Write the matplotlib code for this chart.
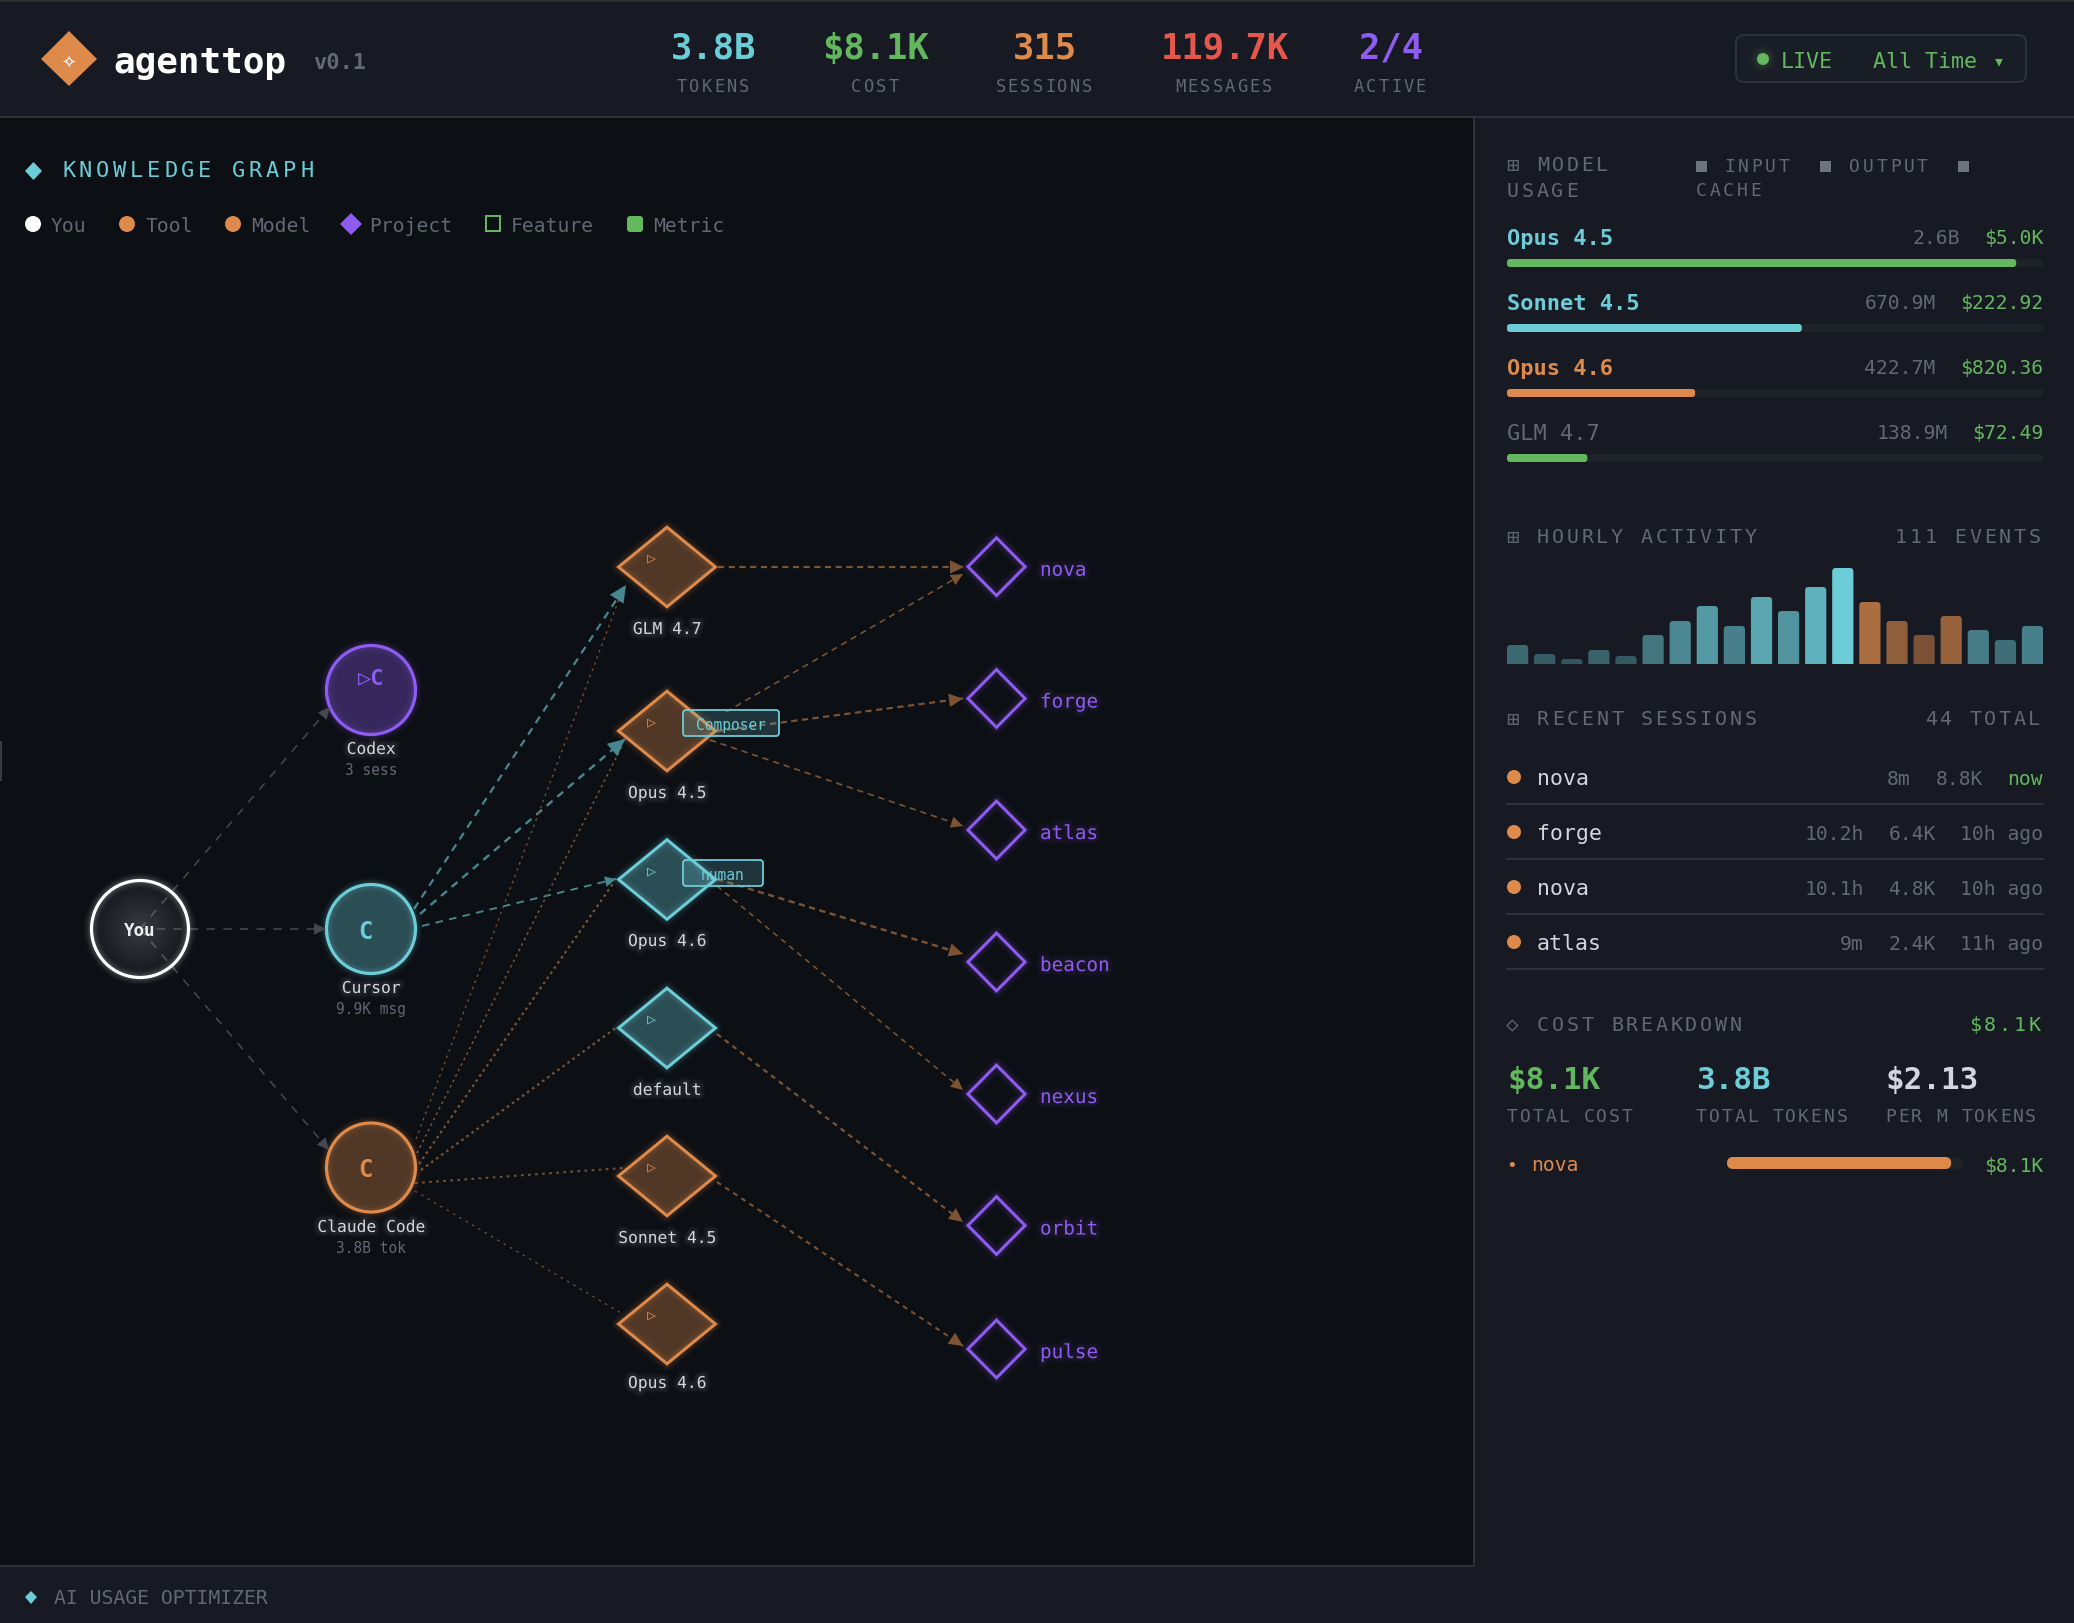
import numpy as np
import matplotlib
matplotlib.use("Agg")
import matplotlib.pyplot as plt
import matplotlib.patheffects as pe
from matplotlib.patches import Rectangle, Circle, Polygon, FancyBboxPatch
from matplotlib.text import Text

# ---- values ----
stat_values = ["3.8B", "$8.1K", "315", "119.7K", "2/4"]
stat_labels = ["TOKENS", "COST", "SESSIONS", "MESSAGES", "ACTIVE"]

model_names = ["Opus 4.5", "Sonnet 4.5", "Opus 4.6", "GLM 4.7"]
model_tokens = ["2.6B", "670.9M", "422.7M", "138.9M"]
model_costs = ["$5.0K", "$222.92", "$820.36", "$72.49"]
model_shares = [0.95, 0.55, 0.351, 0.15]

hourly_events = [19, 10, 5, 14, 8, 29, 43, 58, 38, 67, 53, 77, 96, 62, 43, 29, 48, 34, 24, 38]
hourly_orange = [13, 14, 15, 16]

session_names = ["nova", "forge", "nova", "atlas"]
session_times = ["8m", "10.2h", "10.1h", "9m"]
session_tokens = ["8.8K", "6.4K", "4.8K", "2.4K"]
session_ages = ["now", "10h ago", "10h ago", "11h ago"]

cost_values = ["$8.1K", "3.8B", "$2.13"]
cost_labels = ["TOTAL COST", "TOTAL TOKENS", "PER M TOKENS"]
nova_share = 0.95

project_names = ["nova", "forge", "atlas", "beacon", "nexus", "orbit", "pulse"]

# ---- colours ----
BG = "#0c0f14"
PANEL = "#171a22"
LINE = "#2e3139"
CYAN = "#6ccdd8"
GREEN = "#63b75f"
ORANGE = "#dd8a4b"
RED = "#e5564d"
PURPLE = "#8e5cf0"
GRAY = "#646872"
LIGHT = "#d3d6de"
EDGE_GRAY = "#44474e"
EDGE_CYAN = "#47878f"
EDGE_ORANGE = "#7d5433"

W, H = 2074, 1624
plt.rcParams["font.family"] = ["DejaVu Sans Mono", "DejaVu Sans"]
plt.rcParams["lines.scale_dashes"] = False


def pt(px):
    # figure is saved at 100 dpi
    return px * 0.72


class SpacedText(Text):
    """One text object, drawn with a fixed distance between letters."""

    def __init__(self, x, y, s, pitch, **kw):
        super().__init__(x, y, s, **kw)
        self.pitch = pitch

    def draw(self, renderer):
        s = self.get_text()
        x0 = self.get_position()[0]
        ha = self.get_ha()
        start = x0 - len(s) * self.pitch if ha == "right" else x0
        self.set_ha("left")
        for i, ch in enumerate(s):
            self.set_text(ch)
            self.set_x(start + i * self.pitch)
            super().draw(renderer)
        self.set_text(s)
        self.set_x(x0)
        self.set_ha(ha)

    def get_window_extent(self, renderer=None, dpi=None):
        box = super().get_window_extent(renderer, dpi)
        width = len(self.get_text()) * self.pitch
        if self.get_ha() == "right":
            return box.from_extents(box.x1 - width, box.y0, box.x1, box.y1)
        return box.from_extents(box.x0, box.y0, box.x0 + width, box.y1)


def label(x, y, s, size, color, ha="left", weight="normal", pitch=None, glow=None, zorder=6):
    # y is the middle of the capitals, size is in pixels
    base = y + 0.365 * size
    kw = dict(color=color, fontsize=pt(size), ha=ha, va="baseline", fontweight=weight, zorder=zorder,
              fontfamily=["DejaVu Sans Mono", "DejaVu Sans"])
    if pitch is None:
        t = ax.text(x, base, s, **kw)
    else:
        t = SpacedText(x, base, s, pitch, **kw)
        ax.add_artist(t)
    if glow:
        t.set_path_effects([
            pe.Stroke(linewidth=pt(11), foreground=glow, alpha=0.025),
            pe.Stroke(linewidth=pt(8), foreground=glow, alpha=0.035),
            pe.Stroke(linewidth=pt(5), foreground=glow, alpha=0.045),
            pe.Normal(),
        ])
    return t


def round_box(a, x, y, w, h, r, fc, ec="none", lw=0, alpha=None, zorder=3):
    p = FancyBboxPatch((x, y), w, h, boxstyle=f"round,pad=0,rounding_size={r}", fc=fc, ec=ec, lw=pt(lw),
                       alpha=alpha, zorder=zorder, mutation_aspect=1)
    a.add_patch(p)
    return p


def glow_shape(points, color, lw, fill_alpha, closed=True):
    xy = np.array(points)
    ax.add_patch(Polygon(xy, closed=closed, fc=color, ec="none", alpha=fill_alpha, zorder=3))
    for width, alpha in [(16, 0.02), (13, 0.03), (10, 0.05), (7, 0.07)]:
        ax.add_patch(Polygon(xy, closed=closed, fc="none", ec=color, lw=pt(width), alpha=alpha,
                             joinstyle="round", zorder=3))
    ax.add_patch(Polygon(xy, closed=closed, fc="none", ec=color, lw=pt(lw), joinstyle="miter", zorder=4))


def diamond(cx, cy, hw, hh, color, lw=3, fill_alpha=0.33):
    glow_shape([(cx - hw, cy), (cx, cy - hh), (cx + hw, cy), (cx, cy + hh)], color, lw, fill_alpha)


def circle_node(cx, cy, r, color, fill_alpha=0.33, lw=3.2):
    ax.add_patch(Circle((cx, cy), r, fc=color, ec="none", alpha=fill_alpha, zorder=3))
    for width, alpha in [(16, 0.02), (13, 0.03), (10, 0.05), (7, 0.07)]:
        ax.add_patch(Circle((cx, cy), r, fc="none", ec=color, lw=pt(width), alpha=alpha, zorder=3))
    ax.add_patch(Circle((cx, cy), r, fc="none", ec=color, lw=pt(lw), zorder=4))


def edge(start, tip, color, lw, dash, head=0):
    start, tip = np.array(start, float), np.array(tip, float)
    ax.plot([start[0], tip[0]], [start[1], tip[1]], color=color, lw=pt(lw), ls=(0, dash),
            dash_capstyle="butt", zorder=2)
    if head:
        d = (tip - start) / np.hypot(*(tip - start))
        n = np.array([-d[1], d[0]])
        back = tip - d * head
        ax.add_patch(Polygon([tip, back + n * head * 0.48, back - n * head * 0.48], fc=color, ec="none", zorder=5))


fig = plt.figure(figsize=(W / 100, H / 100), dpi=100, facecolor=PANEL)
ax = fig.add_axes([0, 0, 1, 1])
ax.set_xlim(0, W)
ax.set_ylim(H, 0)
ax.axis("off")

# ---- panels ----
ax.add_patch(Rectangle((0, 119), 1473, 1447, fc=BG, ec="none", zorder=0))
ax.add_patch(Rectangle((0, 0), W, 2.5, fc="#2c2d2f", ec="none", zorder=1))
ax.plot([0, W], [118, 118], color=LINE, lw=pt(2), zorder=1)
ax.plot([1474, 1474], [118, 1567], color=LINE, lw=pt(2), zorder=1)
ax.plot([0, 1474], [1567, 1567], color=LINE, lw=pt(2), zorder=1)
ax.add_patch(Rectangle((0, 742), 1.5, 40, fc="#3a3a3c", ec="none", zorder=1))

# ---- header ----
ax.add_patch(Polygon([(41, 60), (69, 32), (97, 60), (69, 87)], fc=ORANGE, ec="none", zorder=3))
label(69, 60, "✧", 24, "white", ha="center")
label(113, 60, "agenttop", 36, "white", weight="bold")
label(313, 61, "v0.1", 22, GRAY, weight="bold")

stat_x = [714, 876, 1045, 1225, 1391]
stat_colors = [CYAN, GREEN, ORANGE, RED, PURPLE]
for x, v, lab, c in zip(stat_x, stat_values, stat_labels, stat_colors):
    label(x, 46, v, 35.5, c, ha="center", weight="bold")
    n = len(lab)
    label(x - n * 12.4 / 2, 85.5, lab, 17, GRAY, pitch=12.4)

round_box(ax, 1736, 36, 290, 47, 8, "#191d25", ec=LINE, lw=2)
for r, a in [(14, 0.03), (11, 0.05), (8.5, 0.08)]:
    ax.add_patch(Circle((1763, 60), r, fc=GREEN, ec="none", alpha=a, zorder=4))
ax.add_patch(Circle((1763, 60), 6, fc=GREEN, ec="none", zorder=5))
label(1781, 60, "LIVE", 21.6, GREEN)
label(1873, 60, "All Time", 21.6, GREEN)
label(1999, 60, "▾", 20, GREEN, ha="center")

# ---- knowledge graph title and legend ----
ax.add_patch(Polygon([(25, 172), (33.5, 163), (42, 172), (33.5, 181)], fc=CYAN, ec="none", zorder=3))
label(62, 169, "KNOWLEDGE GRAPH", 22, CYAN, pitch=17)

LEG_Y = 225
ax.add_patch(Circle((33, LEG_Y), 8, fc="white", ec="none", zorder=4))
label(51, LEG_Y, "You", 19.6, GRAY)
ax.add_patch(Circle((127, LEG_Y), 8, fc=ORANGE, ec="none", zorder=4))
label(145, LEG_Y, "Tool", 19.6, GRAY)
ax.add_patch(Circle((233, LEG_Y), 8, fc=ORANGE, ec="none", zorder=4))
label(251, LEG_Y, "Model", 19.6, GRAY)
ax.add_patch(Polygon([(340, LEG_Y), (351, LEG_Y - 11), (362, LEG_Y), (351, LEG_Y + 11)], fc=PURPLE, ec="none", zorder=4))
label(369, LEG_Y, "Project", 19.6, GRAY)
ax.add_patch(Rectangle((486, LEG_Y - 8), 14, 15, fc="none", ec=GREEN, lw=pt(2), zorder=4))
label(511, LEG_Y, "Feature", 19.6, GRAY)
round_box(ax, 627, LEG_Y - 8, 16, 16, 3, GREEN, zorder=4)
label(653, LEG_Y, "Metric", 19.6, GRAY)

# ---- graph layout ----
you = (140, 930)
tools = {"Codex": (371, 691), "Cursor": (371, 930), "Claude Code": (371, 1168.5)}
model_pos = [(667, 568), (667, 732), (667, 880.5), (667, 1029), (667, 1177), (667, 1325)]
model_label_y = [629, 793, 941, 1090, 1238, 1383]
model_labels = ["GLM 4.7", "Opus 4.5", "Opus 4.6", "default", "Sonnet 4.5", "Opus 4.6"]
model_node_colors = [ORANGE, ORANGE, CYAN, CYAN, ORANGE, ORANGE]
project_y = [567.7, 699.5, 831, 963, 1095, 1226.5, 1350]
PROJECT_X = 996.5

edge(you, (330, 708), EDGE_GRAY, 1.6, (6, 6), head=12)
edge(you, (326, 930), EDGE_GRAY, 1.6, (6, 6), head=12)
edge(you, (329, 1151), EDGE_GRAY, 1.6, (6, 6), head=12)

edge((414, 910), (626, 586), EDGE_CYAN, 2.2, (5.5, 4.5), head=17)
edge((420, 915), (625, 740), EDGE_CYAN, 2.4, (5.5, 4.5), head=17)
edge((422, 927), (616, 880), EDGE_CYAN, 1.9, (5.5, 4.5), head=11)

edge((416, 1140), (621, 595), EDGE_ORANGE, 1.3, (1.8, 3))
edge((417, 1154), (623, 745), EDGE_ORANGE, 1.6, (1.8, 2.6))
edge((419, 1165), (614, 883), EDGE_ORANGE, 2.2, (1.9, 2.6))
edge((421, 1171), (617, 1028), EDGE_ORANGE, 2.2, (1.9, 2.6))
edge((415, 1184), (623, 1169), EDGE_ORANGE, 2, (1.9, 3.2))
edge((415, 1192), (621, 1314), EDGE_ORANGE, 1.2, (1.8, 3.5))

edge((718, 568), (964, 568), EDGE_ORANGE, 2.2, (4.5, 3.2), head=14)
edge((726, 713), (963, 575), EDGE_ORANGE, 1.6, (4.5, 3.5), head=12)
edge((717, 732), (963, 699.5), EDGE_ORANGE, 2.2, (4.5, 3.2), head=14)
edge((710, 741), (963, 827), EDGE_ORANGE, 1.7, (4.5, 3.5), head=12)
edge((717, 880), (963, 955), EDGE_ORANGE, 2.4, (4.5, 3.2), head=14)
edge((717, 887), (963, 1091), EDGE_ORANGE, 1.6, (4, 3.5), head=12)
edge((717, 1035), (963, 1223), EDGE_ORANGE, 2.2, (3.6, 3.4), head=14)
edge((717, 1183), (963, 1347), EDGE_ORANGE, 2, (3.6, 3.4), head=14)

# ---- nodes ----
circle_node(*you, 48.5, "white", fill_alpha=0.04)
for r in range(8, 48, 4):
    ax.add_patch(Circle(you, r, fc="white", ec="none", alpha=0.014, zorder=3))
label(you[0], you[1], "You", 17.5, "#eceef2", ha="center", weight="bold")

circle_node(*tools["Codex"], 44.5, PURPLE, fill_alpha=0.33)
label(371, 676, "▷C", 22, PURPLE, ha="center", weight="bold")
label(371, 749, "Codex", 16.3, LIGHT, ha="center", glow=LIGHT)
label(371, 770, "3 sess", 14.5, GRAY, ha="center")

circle_node(*tools["Cursor"], 44.5, CYAN, fill_alpha=0.33)
label(365, 930, "C", 24, CYAN, ha="center", weight="bold")
label(371, 988, "Cursor", 16.3, LIGHT, ha="center", glow=LIGHT)
label(371, 1009, "9.9K msg", 14.5, GRAY, ha="center")

circle_node(*tools["Claude Code"], 44.5, ORANGE, fill_alpha=0.33)
label(365, 1168, "C", 24, ORANGE, ha="center", weight="bold")
label(371, 1227, "Claude Code", 16.3, LIGHT, ha="center", glow=LIGHT)
label(371, 1248, "3.8B tok", 14.5, GRAY, ha="center")

for (x, y), ly, name, c in zip(model_pos, model_label_y, model_labels, model_node_colors):
    diamond(x, y, 48.5, 39.8, c)
    label(x - 16, y - 11, "▷", 15, c, ha="center")
    label(x, ly, name, 16.3, LIGHT, ha="center", glow=LIGHT)

for y, name in zip(project_y, project_names):
    diamond(PROJECT_X, y, 28.6, 28.9, PURPLE, fill_alpha=0.0)
    label(1040, y + 2, name, 19.3, PURPLE, glow=PURPLE)

for text, x0, x1, y0, y1, tx in [("Composer", 683, 779, 711, 737, 731), ("human", 683, 763, 861, 887, 723)]:
    round_box(ax, x0, y0, x1 - x0, y1 - y0, 3, CYAN, alpha=0.2, zorder=6)
    round_box(ax, x0, y0, x1 - x0, y1 - y0, 3, "none", ec=CYAN, lw=1.8, zorder=6)
    label(tx, (y0 + y1) / 2 + 1, text, 14.5, CYAN, ha="center", zorder=7)

# ---- side panel: model usage ----
SX, SR = 1507, 2043
TRACK = SR - SX
ICON = "#5f636d"
ICON_SIZE = 21
label(SX - 1, 164, "⊞", ICON_SIZE, ICON)
label(1537, 164, "MODEL", 20, GRAY, pitch=14.8)
label(SX, 190, "USAGE", 20, GRAY, pitch=14.8)
for x in [1696, 1820, 1958]:
    ax.add_patch(Rectangle((x, 162), 11, 11, fc="#6f737c", ec="none", zorder=4))
label(1724, 165, "INPUT", 18, GRAY, pitch=13.6)
label(1849, 165, "OUTPUT", 18, GRAY, pitch=13.6)
label(1696, 189, "CACHE", 18, GRAY, pitch=13.6)

name_colors = [CYAN, CYAN, ORANGE, GRAY]
bar_colors = [GREEN, CYAN, ORANGE, GREEN]
for i, (name, tok, cost, share) in enumerate(zip(model_names, model_tokens, model_costs, model_shares)):
    y = 237 + i * 65
    label(SX, y, name, 22, name_colors[i], weight="bold" if i < 3 else "normal")
    label(SR, y, cost, 19.8, GREEN, ha="right")
    label(SR - len(cost) * 11.9 - 24, y, tok, 19.8, GRAY, ha="right")
    round_box(ax, SX, y + 23, TRACK, 8, 3, "#1e2229")
    round_box(ax, SX, y + 23, share * TRACK, 8, 3, bar_colors[i], zorder=4)

# ---- side panel: hourly activity ----
label(SX - 1, 536, "⊞", ICON_SIZE, ICON)
label(1537, 536, "HOURLY ACTIVITY", 20, GRAY, pitch=14.8)
label(2043, 536, "111 EVENTS", 20, GRAY, ha="right", pitch=14.8)

ax_hour = fig.add_axes([SX / W, 1 - 665 / H, TRACK / W, 96 / H])
ax_hour.set_xlim(0, TRACK)
ax_hour.set_ylim(0, max(hourly_events))
ax_hour.axis("off")
bar_pos = np.arange(len(hourly_events)) * 27.1
bars = ax_hour.bar(bar_pos, hourly_events, width=21.2, align="edge")
for i, rect in enumerate(bars):
    h = rect.get_height()
    rect.set_visible(False)
    color = ORANGE if i in hourly_orange else CYAN
    shade = 0.3 + 0.7 * h / max(hourly_events)
    p = round_box(ax_hour, rect.get_x(), -6, rect.get_width(), h + 6, 3.5, color, alpha=shade)
    p.set_clip_path(ax_hour.patch)

# ---- side panel: recent sessions ----
label(SX - 1, 718, "⊞", ICON_SIZE, ICON)
label(1537, 718, "RECENT SESSIONS", 20, GRAY, pitch=14.8)
label(2043, 718, "44 TOTAL", 20, GRAY, ha="right", pitch=14.8)
for i in range(len(session_names)):
    y = 778 + i * 55
    ax.add_patch(Circle((1514, y), 7, fc=ORANGE, ec="none", zorder=4))
    label(1537, y - 1, session_names[i], 21.5, LIGHT)
    age = session_ages[i]
    tok = session_tokens[i]
    label(SR, y, age, 19.6, GREEN if age == "now" else GRAY, ha="right")
    x_tok = SR - len(age) * 11.8 - 24.5
    label(x_tok, y, tok, 19.6, GRAY, ha="right")
    label(x_tok - len(tok) * 11.8 - 25, y, session_times[i], 19.6, GRAY, ha="right")
    ax.plot([SX, SR], [y + 27, y + 27], color=LINE, lw=pt(2), zorder=2)

# ---- side panel: cost breakdown ----
label(SX - 1, 1024, "◇", ICON_SIZE, ICON)
label(1537, 1024, "COST BREAKDOWN", 20, GRAY, pitch=14.8)
label(2043, 1024, "$8.1K", 20, GREEN, ha="right", pitch=14.8)
cost_x = [1507, 1696, 1885]
cost_colors = [GREEN, CYAN, LIGHT]
for x, v, lab, c in zip(cost_x, cost_values, cost_labels, cost_colors):
    label(x, 1078, v, 31, c, weight="bold")
    label(x, 1115, lab, 18, GRAY, pitch=12.75)

label(1512, 1164, "•", 18, ORANGE, ha="center")
label(1531, 1164, "nova", 19.6, ORANGE)
round_box(ax, 1727, 1158, 236, 12, 6, "#1e2229")
round_box(ax, 1727, 1158, nova_share * 236, 12, 6, ORANGE, zorder=4)
label(SR, 1165, "$8.1K", 19.6, GREEN, ha="right")

# ---- footer ----
ax.add_patch(Polygon([(25, 1598), (31, 1592), (37, 1598), (31, 1605)], fc=CYAN, ec="none", zorder=4))
label(54, 1597, "AI USAGE OPTIMIZER", 19.8, GRAY)

fig.savefig("out.png", dpi=100, facecolor=PANEL)
